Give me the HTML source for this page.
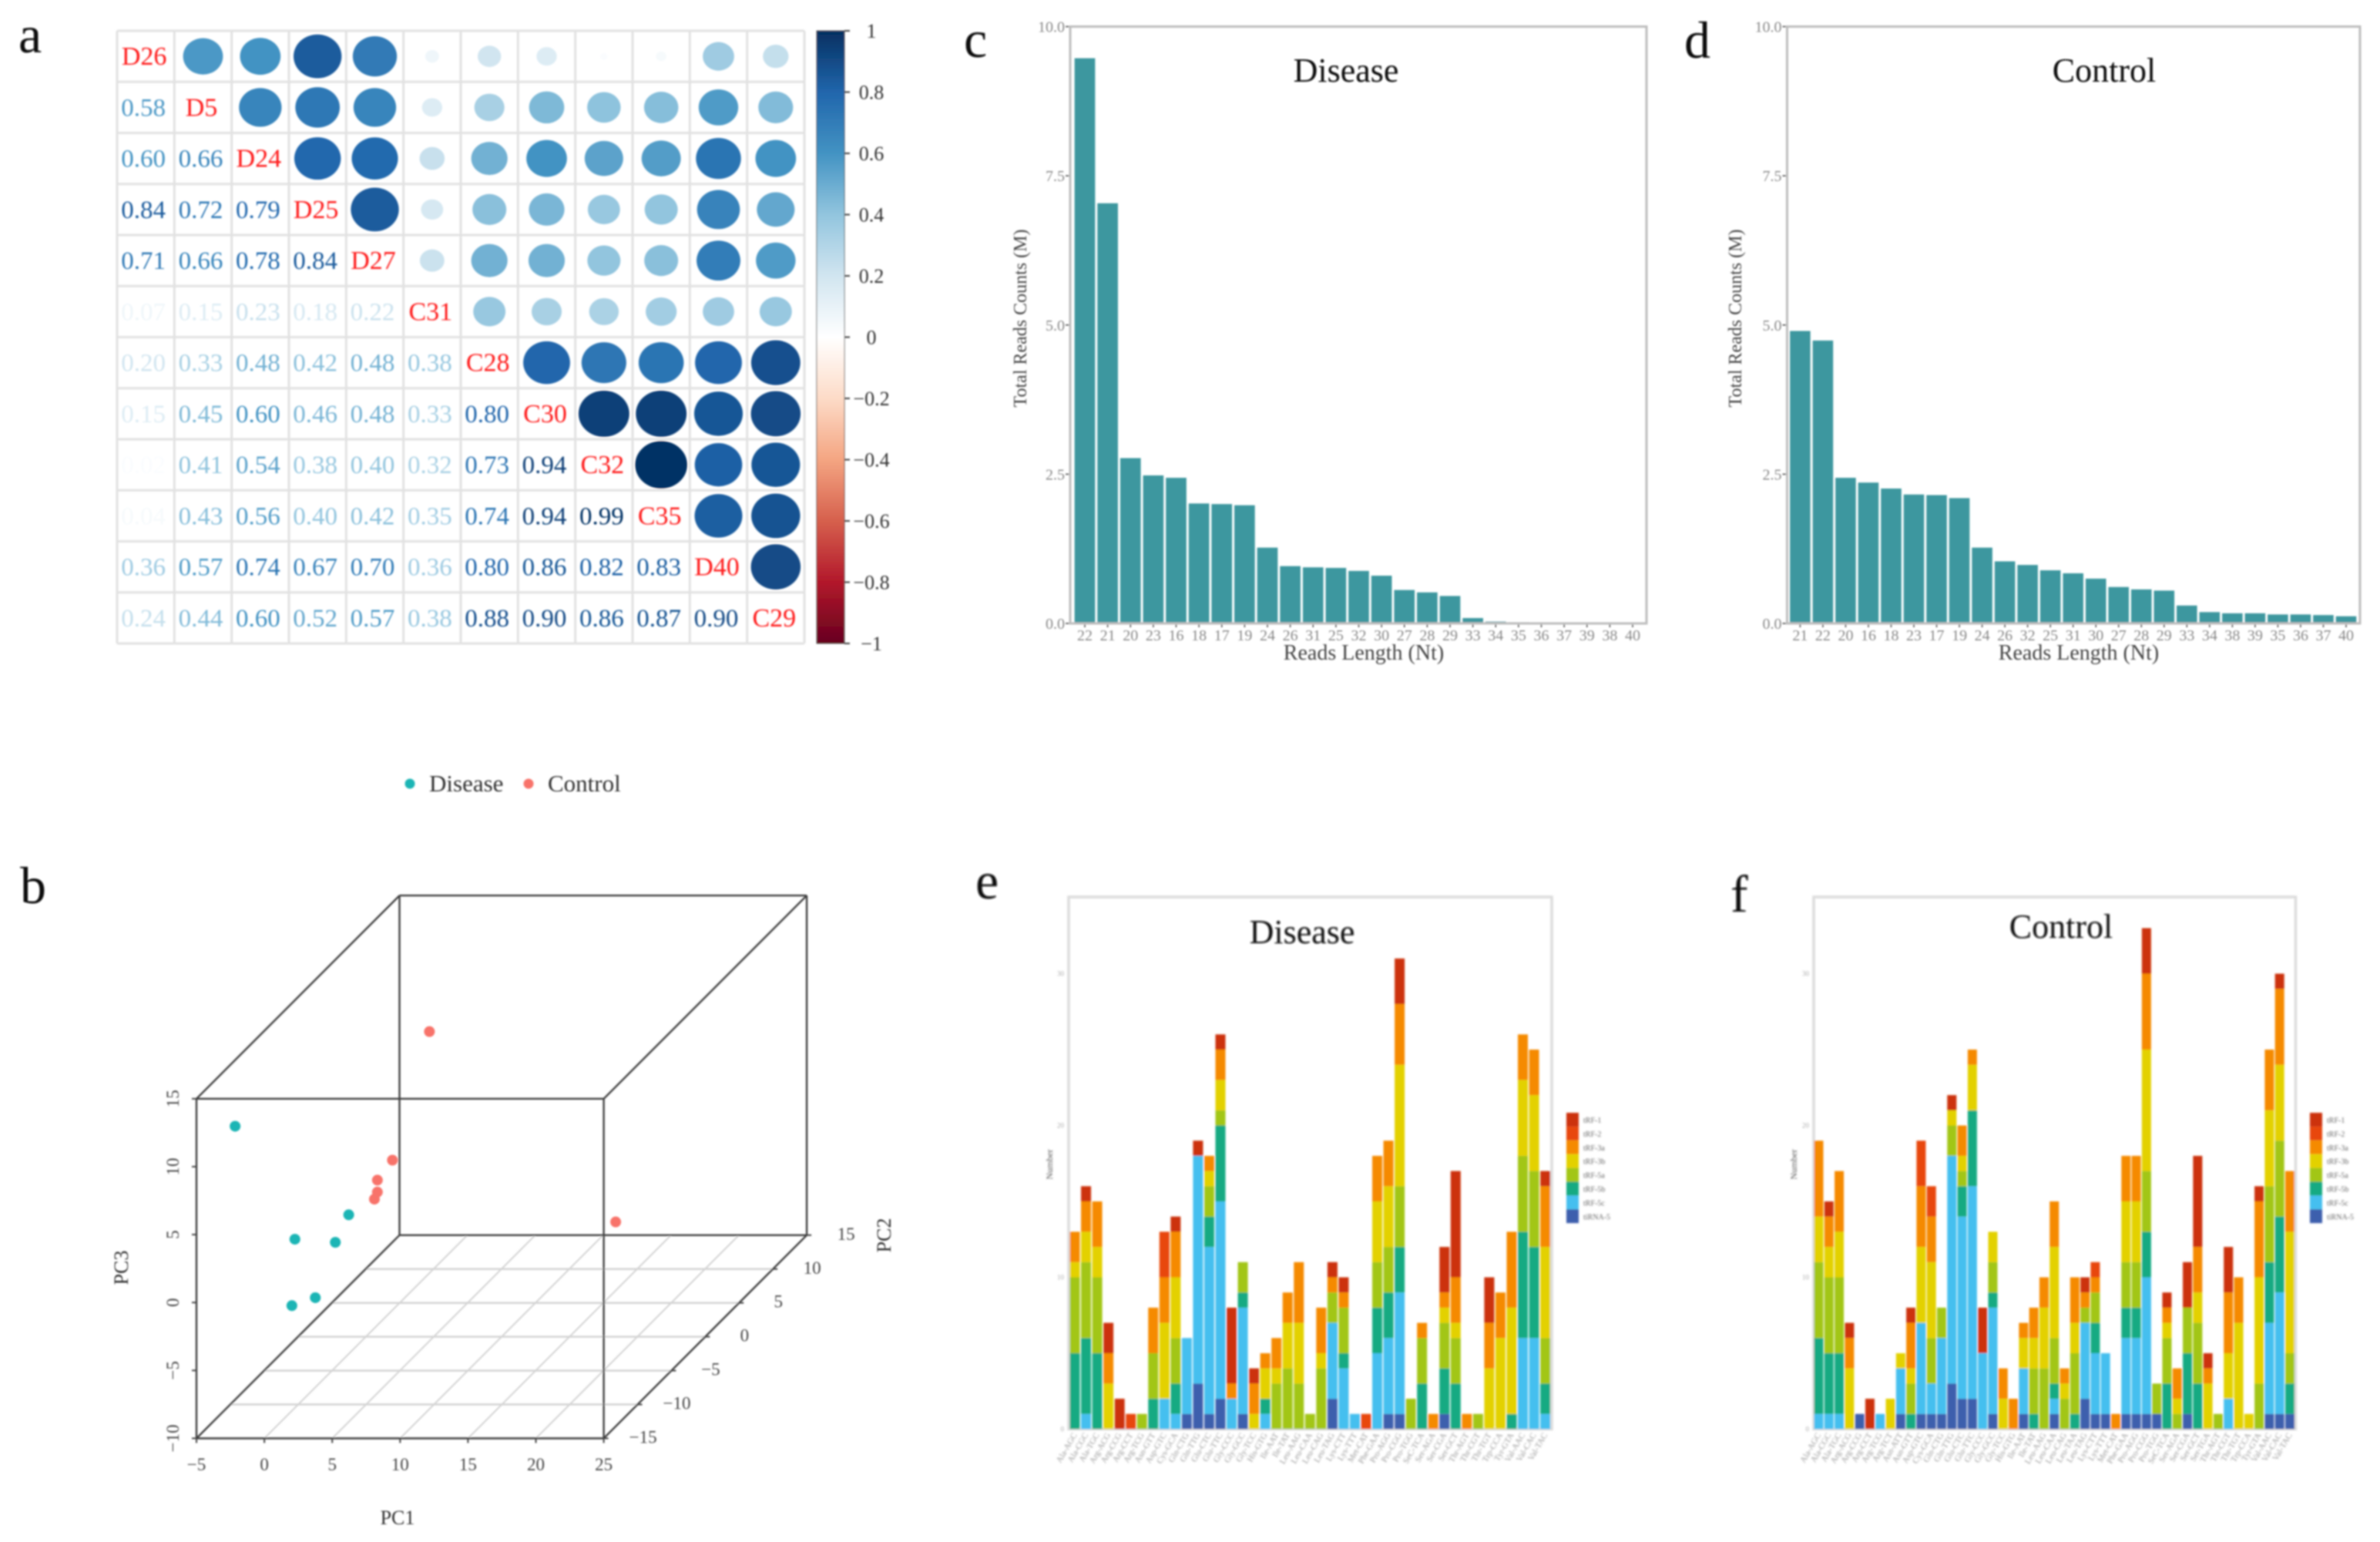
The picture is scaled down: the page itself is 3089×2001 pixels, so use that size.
<!DOCTYPE html>
<html lang="en">
<head>
<meta charset="utf-8">
<title>Small RNA sequencing overview figure</title>
<style>
html,body{margin:0;padding:0;background:#fff;}
svg{display:block;font-family:"Liberation Serif",serif;}
</style>
</head>
<body>
<svg id="figure" xmlns="http://www.w3.org/2000/svg" width="3089" height="2001" viewBox="0 0 3089 2001">
<defs>
<filter id="soft" filterUnits="userSpaceOnUse" x="0" y="0" width="3089" height="2001"><feGaussianBlur stdDeviation="1"/></filter>
<filter id="softer" filterUnits="userSpaceOnUse" x="0" y="0" width="3089" height="2001"><feGaussianBlur stdDeviation="1.2"/></filter>
<linearGradient id="rdbu" x1="0" y1="0" x2="0" y2="1">
<stop offset="0" stop-color="#053061"/><stop offset=".1" stop-color="#2166ac"/><stop offset=".2" stop-color="#4393c3"/><stop offset=".3" stop-color="#92c5de"/><stop offset=".4" stop-color="#d1e5f0"/><stop offset=".5" stop-color="#ffffff"/><stop offset=".6" stop-color="#fddbc7"/><stop offset=".7" stop-color="#f4a582"/><stop offset=".8" stop-color="#d6604d"/><stop offset=".9" stop-color="#b2182b"/><stop offset="1" stop-color="#67001f"/>
</linearGradient>
</defs>
<rect width="3089" height="2001" fill="#fff"/>

<g filter="url(#soft)">
<text x="24" y="68" font-size="68" fill="#111">a</text>
<g id="corr-grid"></g>
<rect x="1060" y="40" width="36" height="795" fill="url(#rdbu)" stroke="#555" stroke-width="1"/>
<g id="colorbar-ticks"></g>
</g>

<g filter="url(#soft)">
<text x="26" y="1172" font-size="68" fill="#111">b</text>
<g id="pca-plot"></g>
<text x="516" y="1978" font-size="26" text-anchor="middle" fill="#333">PC1</text>
<text transform="translate(1156,1603) rotate(-90)" font-size="26" text-anchor="middle" fill="#333">PC2</text>
<text transform="translate(166,1645) rotate(-90)" font-size="26" text-anchor="middle" fill="#333">PC3</text>
<g>
<circle cx="532" cy="1017" r="6.5" fill="#1fb5b5"/>
<text x="557" y="1027" font-size="31" fill="#333">Disease</text>
<circle cx="686" cy="1017" r="6.5" fill="#f8736b"/>
<text x="711" y="1027" font-size="31" fill="#333">Control</text>
</g>
</g>

<g filter="url(#soft)">
<text x="1251" y="74" font-size="68" fill="#111">c</text>
<g id="chart-c"></g>
<text x="1747" y="106" font-size="44" text-anchor="middle" fill="#111">Disease</text>
<text x="1770" y="856" font-size="28" text-anchor="middle" fill="#444">Reads Length (Nt)</text>
<text transform="translate(1332,413) rotate(-90)" font-size="24" text-anchor="middle" fill="#444">Total Reads Counts (M)</text>
</g>

<g filter="url(#soft)">
<text x="2186" y="75" font-size="68" fill="#111">d</text>
<g id="chart-d"></g>
<text x="2731" y="106" font-size="44" text-anchor="middle" fill="#111">Control</text>
<text x="2698" y="856" font-size="28" text-anchor="middle" fill="#444">Reads Length (Nt)</text>
<text transform="translate(2260,413) rotate(-90)" font-size="24" text-anchor="middle" fill="#444">Total Reads Counts (M)</text>
</g>

<g filter="url(#softer)">
<text x="1266" y="1166" font-size="68" fill="#111">e</text>
<g id="chart-e"></g>
<text x="1690" y="1224" font-size="44" text-anchor="middle" fill="#111">Disease</text>
<text transform="translate(1366,1511) rotate(-90)" font-size="12" text-anchor="middle" fill="#555">Number</text>
</g>

<g filter="url(#softer)">
<text x="2246" y="1183" font-size="68" fill="#111">f</text>
<g id="chart-f"></g>
<text x="2675" y="1217" font-size="44" text-anchor="middle" fill="#111">Control</text>
<text transform="translate(2332,1511) rotate(-90)" font-size="12" text-anchor="middle" fill="#555">Number</text>
</g>
</svg>

<script>
/* ---------- panel a data ---------- */
const sampleLabels = ['D26','D5','D24','D25','D27','C31','C28','C30','C32','C35','D40','C29'];
const corrRows = [
  [],
  [0.58],
  [0.60,0.66],
  [0.84,0.72,0.79],
  [0.71,0.66,0.78,0.84],
  [0.07,0.15,0.23,0.18,0.22],
  [0.20,0.33,0.48,0.42,0.48,0.38],
  [0.15,0.45,0.60,0.46,0.48,0.33,0.80],
  [0.02,0.41,0.54,0.38,0.40,0.32,0.73,0.94],
  [0.04,0.43,0.56,0.40,0.42,0.35,0.74,0.94,0.99],
  [0.36,0.57,0.74,0.67,0.70,0.36,0.80,0.86,0.82,0.83],
  [0.24,0.44,0.60,0.52,0.57,0.38,0.88,0.90,0.86,0.87,0.90]
];
const colorbarValues = [1,0.8,0.6,0.4,0.2,0,-0.2,-0.4,-0.6,-0.8,-1];

/* ---------- panel b data ---------- */
const pc1Ticks = [-5,0,5,10,15,20,25];
const pc2Ticks = [-15,-10,-5,0,5,10,15];
const pc3Ticks = [-10,-5,0,5,10,15];
const diseasePc1 = [-3.15,1.23,-1.24,1.74,-1.23,-1.96];
const diseasePc2 = [-13,-5,-8,-8,-5,-7];
const diseasePc3 = [11.98,1.47,1.17,0.94,-4.63,-4.22];
const controlPc1 = [2.19,-2.03,-2.64,-2.64,-2.86,19.4];
const controlPc2 = [5,8,7,7,7,-2];
const controlPc3 = [9.97,-0.99,-1.96,-2.84,-3.36,-0.55];

/* ---------- panels c, d data ---------- */
const readTicks = [0,2.5,5,7.5,10];
const diseaseLengths = ['22','21','20','23','16','18','17','19','24','26','31','25','32','30','27','28','29','33','34','35','36','37','39','38','40'];
const diseaseCounts = [9.47,7.04,2.77,2.48,2.44,2.01,2.0,1.98,1.27,0.96,0.94,0.93,0.88,0.8,0.56,0.52,0.46,0.09,0.03,0.02,0.015,0.01,0.01,0.01,0.01];
const controlLengths = ['21','22','20','16','18','23','17','19','24','26','32','25','31','30','27','28','29','33','34','38','39','35','36','37','40'];
const controlCounts = [4.9,4.74,2.44,2.36,2.26,2.16,2.15,2.1,1.27,1.04,0.98,0.89,0.84,0.75,0.61,0.57,0.55,0.3,0.19,0.17,0.17,0.15,0.15,0.14,0.12];

/* ---------- panels e, f data ---------- */
const numberTicks = [0,10,20,30];
const typeNames = ['tRF-1','tRF-2','tRF-3a','tRF-3b','tRF-5a','tRF-5b','tRF-5c','tiRNA-5'];
const isotypesF = ['Ala-AGC','Ala-CGC','Ala-TGC','Arg-ACG','Arg-CCG','Arg-CCT','Arg-TCG','Arg-TCT','Asn-ATT','Asn-GTT','Asp-GTC','Cys-GCA','Gln-CTG','Gln-TTG','Glu-CTC','Glu-TTC','Gly-CCC','Gly-GCC','Gly-TCC','His-GTG','Ile-AAT','Ile-TAT','Leu-AAG','Leu-CAA','Leu-CAG','Leu-TAA','Leu-TAG','Lys-CTT','Lys-TTT','Met-CAT','Phe-GAA','Pro-AGG','Pro-CGG','Pro-TGG','SeC-TCA','Ser-AGA','Ser-CGA','Ser-GCT','Ser-TGA','Thr-AGT','Thr-CGT','Thr-TGT','Trp-CCA','Tyr-GTA','Val-AAC','Val-CAC','Val-TAC'];
const isotypesE = ['Ala-AGC','Ala-CGC','Ala-TGC','Arg-ACG','Arg-CCG','Arg-CCT','Arg-TCG','Asn-GTT','Asp-GTC','Cys-GCA','Gln-CTG','Gln-TTG','Glu-CTC','Glu-TTC','Gly-CCC','Gly-GCC','Gly-TCC','His-GTG','Ile-AAT','Ile-TAT','Leu-AAG','Leu-CAA','Leu-CAG','Leu-TAG','Lys-CTT','Lys-TTT','Met-CAT','Phe-GAA','Pro-AGG','Pro-CGG','Pro-TGG','SeC-TCA','Ser-AGA','Ser-CGA','Ser-GCT','Thr-AGT','Thr-CGT','Thr-TGT','Trp-CCA','Tyr-GTA','Val-AAC','Val-CAC','Val-TAC'];

const eTiRNA5 = [0,0,0,0,0,0,0,0,0,0, 1,3,1,2,0,1,0,0,0,0, 0,0,0,2,0,0,0,0,1,1, 0,0,0,1,0,0,0,0,0,0, 0,0,0];
const eTRF5c  = [0,1,0,0,0,0,0,0,2,1, 5,15,11,13,2,7,0,1,0,0, 0,0,0,5,4,1,0,5,5,8, 0,0,0,0,0,0,0,0,0,0, 6,6,1];
const eTRF5b  = [5,5,5,0,0,0,0,2,0,2, 0,0,2,5,0,1,0,1,0,0, 0,0,0,0,1,0,0,3,3,3, 0,3,0,3,3,0,0,0,0,1, 7,6,2];
const eTRF5a  = [5,5,5,0,0,0,1,3,0,3, 0,0,2,1,0,2,0,0,3,4, 3,1,4,2,3,0,0,3,3,4, 2,3,0,3,3,0,1,0,0,0, 5,5,3];
const eTRF3b  = [1,2,2,3,0,0,0,0,5,4, 0,0,1,2,0,0,1,2,1,3, 4,0,1,0,0,0,0,4,4,8, 0,0,0,1,1,0,0,4,6,7, 5,5,6];
const eTRF3a  = [2,2,3,2,0,0,0,3,3,3, 0,0,1,2,1,0,2,1,2,2, 4,0,3,1,1,0,0,3,3,4, 0,1,1,1,3,1,0,3,3,5, 3,3,4];
const eTRF2   = [0,0,0,0,0,1,0,0,3,0, 0,0,0,0,0,0,0,0,0,0, 0,0,0,0,0,0,1,0,0,0, 0,0,0,0,0,0,0,0,0,0, 0,0,0];
const eTRF1   = [0,1,0,2,2,0,0,0,0,1, 0,1,0,1,5,0,1,0,0,0, 0,0,0,1,1,0,0,0,0,3, 0,0,0,3,7,0,0,3,0,0, 0,0,1];

const fTiRNA5 = [0,0,0,0,1,0,0,0,1,0, 1,1,1,3,2,2,0,1,0,0, 1,0,0,1,0,0,2,1,1,0, 1,1,1,1,0,0,1,0,0,0, 0,0,0,0,1,1,1];
const fTRF5c  = [1,1,1,0,0,0,1,0,3,0, 6,2,5,15,12,14,5,7,0,0, 3,0,0,1,0,0,5,4,4,0, 5,5,9,0,0,0,0,0,0,0, 2,0,0,0,6,8,0];
const fTRF5b  = [5,4,4,0,0,0,0,0,0,1, 0,0,0,0,2,5,0,1,0,0, 0,1,0,1,0,1,0,2,0,0, 2,2,3,0,3,0,4,3,0,0, 0,0,0,0,4,5,2];
const fTRF5a  = [5,5,5,0,0,0,0,0,0,2, 0,3,2,2,1,0,0,2,0,0, 0,3,4,3,2,4,1,2,0,0, 3,3,4,2,3,1,3,4,0,1, 0,0,0,3,5,5,2];
const fTRF3b  = [3,2,3,4,0,0,0,2,1,1, 5,5,0,1,1,3,0,2,2,0, 2,2,4,6,1,2,0,0,0,0, 4,4,8,0,1,1,0,2,3,0, 3,7,1,7,5,5,8];
const fTRF3a  = [5,2,4,2,0,0,0,0,0,3, 4,3,0,0,2,1,0,0,2,2, 1,2,2,3,1,3,1,1,0,1, 3,3,5,0,1,2,0,3,1,0, 4,3,0,5,4,5,4];
const fTRF2   = [0,0,0,0,0,0,0,0,0,0, 3,2,0,0,0,0,0,0,0,0, 0,0,0,0,0,0,0,1,0,0, 0,0,0,0,0,0,0,0,0,0, 0,0,0,0,0,0,0];
const fTRF1   = [0,1,0,1,0,2,0,0,0,1, 0,0,0,1,0,0,3,0,0,0, 0,0,0,0,0,0,1,0,0,0, 0,0,3,0,1,0,3,6,1,0, 3,0,0,1,0,1,0];

/* ---------- helpers ---------- */
const NS = 'http://www.w3.org/2000/svg';
function add(parent, tag, attrs, text) {
  const el = document.createElementNS(NS, tag);
  for (const k in attrs) el.setAttribute(k, attrs[k]);
  if (text !== undefined) el.textContent = text;
  parent.appendChild(el);
  return el;
}
const rdbuStops = ['#67001f','#b2182b','#d6604d','#f4a582','#fddbc7','#ffffff','#d1e5f0','#92c5de','#4393c3','#2166ac','#053061'];
function hexRgb(h) { return [1,3,5].map(i => parseInt(h.substr(i,2),16)); }
function corrColor(v) {
  const p = (Math.max(-1, Math.min(1, v)) + 1) * 5;
  const i = Math.min(9, Math.floor(p));
  const f = p - i;
  const a = hexRgb(rdbuStops[i]);
  const b = hexRgb(rdbuStops[i + 1]);
  return 'rgb(' + a.map((c, j) => Math.round(c + (b[j] - c) * f)).join(',') + ')';
}
function fmtMinus(v) { return String(v).replace('-', '\u2212'); }

/* ---------- panel a ---------- */
(function drawCorr() {
  const g = document.getElementById('corr-grid');
  const cx0 = 152, cx1 = 1044, cy0 = 40, cy1 = 835;
  const n = sampleLabels.length;
  const cw = (cx1 - cx0) / n, ch = (cy1 - cy0) / n;
  const colX = i => cx0 + cw * i;
  const rowY = i => cy0 + ch * i;
  for (let i = 0; i <= n; i++) {
    const v = add(g, 'line', {x1: colX(i), x2: colX(i), y1: cy0, y2: cy1, stroke: '#e2e2e2', 'stroke-width': 3});
    
    
    const h = add(g, 'line', {x1: cx0, x2: cx1, y1: rowY(i), y2: rowY(i), stroke: '#e2e2e2', 'stroke-width': 3});
    
    
  }
  for (let r = 0; r < n; r++) {
    for (let c = 0; c < n; c++) {
      const x = colX(c) + cw / 2, y = rowY(r) + ch / 2;
      if (r === c) {
        const d = add(g, 'text', {x: x - 2, y: y + 11, 'font-size': 34, 'text-anchor': 'middle', fill: '#ff1f1f'}, sampleLabels[r]);
        
        
      } else if (c < r) {
        const val = corrRows[r][c];
        const t = add(g, 'text', {x: x - 3, y: y + 11, 'font-size': 33, 'text-anchor': 'middle', fill: corrColor(val)}, val.toFixed(2));
        
        
      } else {
        const val = corrRows[c][r];
        const s = Math.sqrt(Math.abs(val));
        const e = add(g, 'ellipse', {cx: x, cy: y, rx: s * 34, ry: s * 31, fill: corrColor(val)});
        
        
      }
    }
  }
  const tg = document.getElementById('colorbar-ticks');
  const barY = v => 40 + (1 - v) / 2 * 795;
  colorbarValues.forEach(v => {
    const tick = add(tg, 'line', {x1: 1096, x2: 1103, y1: barY(v), y2: barY(v), stroke: '#444', 'stroke-width': 2});
    
    
    const lab = add(tg, 'text', {x: 1131, y: barY(v) + 9, 'font-size': 26, 'text-anchor': 'middle', fill: '#333'}, fmtMinus(v));
    
    
  });
})();

/* ---------- panel b ---------- */
(function drawPca() {
  const g = document.getElementById('pca-plot');
  const depth = p2 => (p2 + 15) / 30;
  const px = (p1, p2) => 255 + (p1 + 5) * (528.6 / 30) + depth(p2) * 263.5;
  const py = (p3, p2) => 1866.5 - (p3 + 10) * (440.7 / 25) - depth(p2) * 263.7;
  const seg = (a, b, stroke, width, name) => {
    const l = add(g, 'line', {x1: a[0], y1: a[1], x2: b[0], y2: b[1], stroke: stroke, 'stroke-width': width});
    
    
    return l;
  };
  const corner = (a, b, c) => [px(a, b), py(c, b)];
  pc1Ticks.slice(1, -1).forEach(t => seg(corner(t, -15, -10), corner(t, 15, -10), '#d4d4d4', 2, 'floor-grid-line'));
  pc2Ticks.slice(1, -1).forEach(t => seg(corner(-5, t, -10), corner(25, t, -10), '#d4d4d4', 2.5, 'floor-grid-line'));
  const edges = [
    [[-5,-15,-10],[25,-15,-10]],[[-5,-15,15],[25,-15,15]],[[-5,-15,-10],[-5,-15,15]],[[25,-15,-10],[25,-15,15]],
    [[-5,15,-10],[25,15,-10]],[[-5,15,15],[25,15,15]],[[-5,15,-10],[-5,15,15]],[[25,15,-10],[25,15,15]],
    [[-5,-15,-10],[-5,15,-10]],[[25,-15,-10],[25,15,-10]],[[-5,-15,15],[-5,15,15]],[[25,-15,15],[25,15,15]]
  ];
  edges.forEach(e => seg(corner(e[0][0], e[0][1], e[0][2]), corner(e[1][0], e[1][1], e[1][2]), '#404040', 2.4, 'bounding-box-edge'));
  pc1Ticks.forEach(t => {
    const p = corner(t, -15, -10);
    seg(p, [p[0], p[1] + 6], '#444', 2, 'pc1-tick');
    const lab = add(g, 'text', {x: p[0], y: 1908, 'font-size': 23, 'text-anchor': 'middle', fill: '#444'}, fmtMinus(t));
    
    
  });
  pc3Ticks.forEach(t => {
    const p = corner(-5, -15, t);
    seg(p, [p[0] - 6, p[1]], '#444', 2, 'pc3-tick');
    const lab = add(g, 'text', {transform: 'translate(232,' + p[1] + ') rotate(-90)', 'font-size': 23, 'text-anchor': 'middle', fill: '#444'}, fmtMinus(t));
    
    
  });
  pc2Ticks.forEach(t => {
    const p = corner(25, t, -10);
    seg(p, [p[0] + 6, p[1]], '#444', 2, 'pc2-tick');
    const lab = add(g, 'text', {x: p[0] + 51, y: p[1] + 6, 'font-size': 23, 'text-anchor': 'middle', fill: '#444'}, fmtMinus(t));
    
    
  });
  diseasePc1.forEach((v, i) => {
    const c = add(g, 'circle', {cx: px(v, diseasePc2[i]), cy: py(diseasePc3[i], diseasePc2[i]), r: 7, fill: '#1fb5b5'});
    
    
  });
  controlPc1.forEach((v, i) => {
    const c = add(g, 'circle', {cx: px(v, controlPc2[i]), cy: py(controlPc3[i], controlPc2[i]), r: 7, fill: '#f8736b'});
    
    
  });
})();

/* ---------- panels c, d ---------- */
function drawReads(id, cats, vals, left, right, firstX, lastX) {
  const g = document.getElementById(id);
  const top = 34.5, bottom = 809;
  const step = (lastX - firstX) / (cats.length - 1);
  const xPos = i => firstX + i * step;
  const yPos = v => bottom - v / 10 * (bottom - top);
  vals.forEach((v, i) => {
    const b = add(g, 'rect', {x: xPos(i) - step * 0.45, y: yPos(v), width: step * 0.9, height: bottom - yPos(v), fill: '#3e979f'});
    
    
    const t = add(g, 'line', {x1: xPos(i), x2: xPos(i), y1: bottom, y2: bottom + 5, stroke: '#444', 'stroke-width': 1.5});
    
    
    const l = add(g, 'text', {x: xPos(i), y: 831, 'font-size': 20, 'text-anchor': 'middle', fill: '#888'}, cats[i]);
    
    
  });
  readTicks.forEach(v => {
    const t = add(g, 'line', {x1: left - 6, x2: left, y1: yPos(v), y2: yPos(v), stroke: '#444', 'stroke-width': 1.5});
    
    
    const l = add(g, 'text', {x: left - 7, y: yPos(v) + 7, 'font-size': 20, 'text-anchor': 'end', fill: '#888'}, v.toFixed(1));
    
    
  });
  const f = add(g, 'rect', {x: left, y: top, width: right - left, height: bottom - top, fill: 'none', stroke: '#bdbdbd', 'stroke-width': 3});
  
  
}
drawReads('chart-c', diseaseLengths, diseaseCounts, 1389, 2137, 1408, 2119);
drawReads('chart-d', controlLengths, controlCounts, 2319.5, 3063, 2336.4, 3045);

/* ---------- panels e, f ---------- */
const typeColors = ['#cc3308','#e8470e','#f58a00','#e3d100','#a2c617','#12aa82','#44bfef','#3e5fad'];
function drawStack(id, cats, seriesBottomUp, left, right, firstX, lastX, barW, legendX, textX, tickRight) {
  const g = document.getElementById(id);
  const top = 1164, bottom = 1854.5, unit = 19.7;
  const step = (lastX - firstX) / (cats.length - 1);
  const xPos = i => firstX + i * step;
  const yPos = v => bottom - v * unit;
  const frame = add(g, 'rect', {x: left, y: top, width: right - left, height: bottom - top, fill: 'none', stroke: '#dcdcdc', 'stroke-width': 3.5});
  
  
  cats.forEach((name, i) => {
    let acc = 0;
    seriesBottomUp.forEach((series, s) => {
      const v = series[i];
      if (v > 0) {
        const r = add(g, 'rect', {x: xPos(i) - barW / 2, y: yPos(acc + v), width: barW, height: v * unit, fill: typeColors[7 - s]});
        
        
      }
      acc += v;
    });
    const lab = add(g, 'text', {transform: 'translate(' + (xPos(i) + 3) + ',1862) rotate(-60)', 'font-size': 11, 'text-anchor': 'end', fill: '#999'}, name);
    
    
  });
  numberTicks.forEach(v => {
    const l = add(g, 'text', {x: tickRight, y: yPos(v) + 3, 'font-size': 9, 'text-anchor': 'end', fill: '#aaa'}, String(v));
    
    
  });
  typeNames.forEach((name, i) => {
    const sw = add(g, 'rect', {x: legendX, y: 1444 + i * 17.9, width: 16, height: 17.9, fill: typeColors[i]});
    
    
    const t = add(g, 'text', {x: textX, y: 1444 + i * 17.9 + 13, 'font-size': 10, fill: '#666'}, name);
    
    
  });
}
drawStack('chart-e', isotypesE, [eTiRNA5,eTRF5c,eTRF5b,eTRF5a,eTRF3b,eTRF3a,eTRF2,eTRF1], 1387, 2014, 1395, 2005.6, 13, 2033, 2055, 1381);
drawStack('chart-f', isotypesF, [fTiRNA5,fTRF5c,fTRF5b,fTRF5a,fTRF3b,fTRF3a,fTRF2,fTRF1], 2354, 2979.5, 2360.5, 2972, 12, 2998, 3020, 2348);
</script>
</body>
</html>
